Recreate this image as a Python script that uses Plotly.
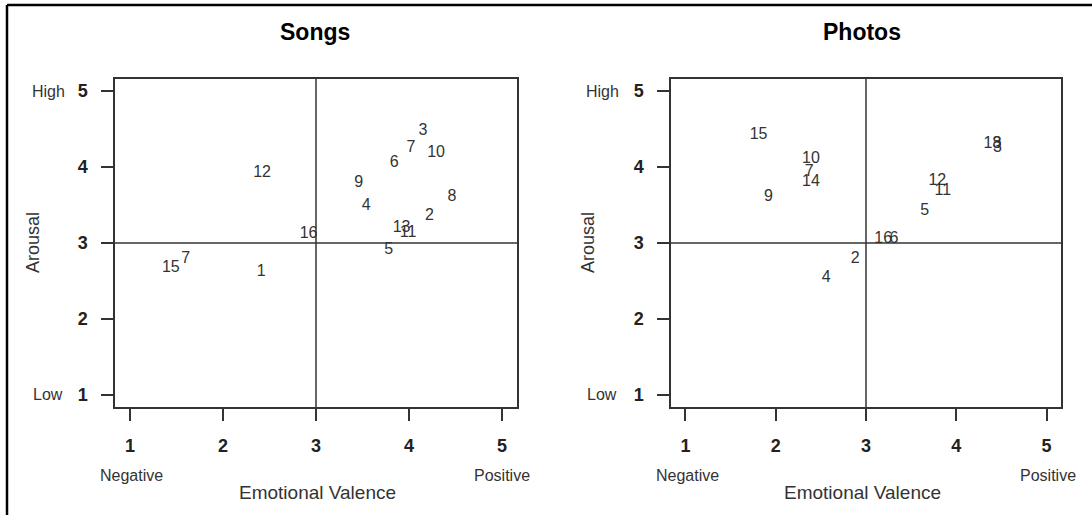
import plotly.graph_objects as go

W, H = 1092, 515

# ---- data ----
songs_labels = ["3", "7", "10", "6", "12", "9", "8", "4", "2", "13", "11", "16", "5", "1", "15", "7"]
songs_valence = [4.15, 4.02, 4.29, 3.84, 2.42, 3.46, 4.46, 3.54, 4.22, 3.92, 3.99, 2.92, 3.78, 2.41, 1.44, 1.60]
songs_arousal = [4.47, 4.25, 4.18, 4.05, 3.92, 3.79, 3.61, 3.49, 3.36, 3.20, 3.13, 3.12, 2.91, 2.62, 2.67, 2.79]

photos_labels = ["15", "10", "7", "14", "9", "12", "11", "5", "16", "6", "2", "4", "13", "8", "3"]
photos_valence = [1.81, 2.39, 2.37, 2.39, 1.92, 3.79, 3.85, 3.65, 3.19, 3.31, 2.88, 2.56, 4.40, 4.45, 4.455]
photos_arousal = [4.42, 4.11, 3.93, 3.80, 3.61, 3.82, 3.68, 3.42, 3.05, 3.05, 2.79, 2.54, 4.30, 4.30, 4.25]

tick_vals = [1, 2, 3, 4, 5]
titles = ["Songs", "Photos"]
x_title = "Emotional Valence"
y_title = "Arousal"

FONT = "Liberation Sans, Arial, sans-serif"
INK = "#333333"


def px_x(p):
    return p / W


def px_y(p):
    return 1 - p / H


fig = go.Figure()
fig.add_trace(go.Scatter(x=songs_valence, y=songs_arousal, text=songs_labels, mode="text",
                         textfont=dict(family=FONT, size=16, color=INK),
                         xaxis="x", yaxis="y", showlegend=False, hoverinfo="skip"))
fig.add_trace(go.Scatter(x=photos_valence, y=photos_arousal, text=photos_labels, mode="text",
                         textfont=dict(family=FONT, size=16, color=INK),
                         xaxis="x2", yaxis="y2", showlegend=False, hoverinfo="skip"))

axis_common = dict(range=[0.84, 5.16], tickvals=tick_vals, showline=True, mirror=True,
                   linecolor=INK, linewidth=1.5, ticks="outside", ticklen=12, tickwidth=1.5,
                   tickcolor=INK, showgrid=False, zeroline=False,
                   tickfont=dict(family=FONT, size=18, color="#222222", weight="bold"))

ydom = [px_y(407), px_y(79)]
fig.update_layout(
    width=W, height=H, margin=dict(l=0, r=0, t=0, b=0),
    paper_bgcolor="white", plot_bgcolor="white",
    xaxis=dict(domain=[px_x(115), px_x(517)], anchor="y", ticklabelstandoff=10, **axis_common),
    yaxis=dict(domain=ydom, anchor="x", ticklabelstandoff=10, **axis_common),
    xaxis2=dict(domain=[px_x(671), px_x(1061)], anchor="y2", ticklabelstandoff=10, **axis_common),
    yaxis2=dict(domain=ydom, anchor="x2", ticklabelstandoff=10, **axis_common),
)

# quadrant lines
for xa, ya in (("x", "y"), ("x2", "y2")):
    fig.add_shape(type="line", xref=xa, yref=f"{ya} domain", x0=3, x1=3, y0=0, y1=1,
                  line=dict(color=INK, width=1.5))
    fig.add_shape(type="line", xref=f"{xa} domain", yref=ya, x0=0, x1=1, y0=3, y1=3,
                  line=dict(color=INK, width=1.5))

# outer frame (left and top edges visible)
fig.add_shape(type="line", xref="paper", yref="paper", x0=px_x(7), x1=px_x(7), y0=0, y1=px_y(5),
              line=dict(color="black", width=2.5))
fig.add_shape(type="line", xref="paper", yref="paper", x0=px_x(7), x1=1, y0=px_y(5), y1=px_y(5),
              line=dict(color="black", width=2.5))

small = dict(family=FONT, size=16, color=INK)
ctr = dict(showarrow=False, xanchor="center", yanchor="middle")
panels = [
    dict(title_x=315, xt_x=317, ar_x=33, hl_x=48, neg_x=131, pos_x=502, ya="y"),
    dict(title_x=862, xt_x=862, ar_x=588, hl_x=602, neg_x=687, pos_x=1048, ya="y2"),
]
for t, p in zip(titles, panels):
    fig.add_annotation(text=f"<b>{t}</b>", x=px_x(p["title_x"]), y=px_y(32), xref="paper", yref="paper",
                       font=dict(family=FONT, size=23, color="black"), **ctr)
    fig.add_annotation(text=x_title, x=px_x(p["xt_x"]), y=px_y(492), xref="paper", yref="paper",
                       font=dict(family=FONT, size=19, color=INK), **ctr)
    fig.add_annotation(text=y_title, x=px_x(p["ar_x"]), y=px_y(243), xref="paper", yref="paper",
                       textangle=-90, font=dict(family=FONT, size=18, color=INK), **ctr)
    fig.add_annotation(text="High", x=px_x(p["hl_x"]), y=5, xref="paper", yref=p["ya"],
                       font=small, **ctr)
    fig.add_annotation(text="Low", x=px_x(p["hl_x"]), y=1, xref="paper", yref=p["ya"],
                       font=small, **ctr)
    fig.add_annotation(text="Negative", x=px_x(p["neg_x"]), y=px_y(475), xref="paper", yref="paper",
                       font=small, **ctr)
    fig.add_annotation(text="Positive", x=px_x(p["pos_x"]), y=px_y(475), xref="paper", yref="paper",
                       font=small, **ctr)

fig.write_html("out.html")
